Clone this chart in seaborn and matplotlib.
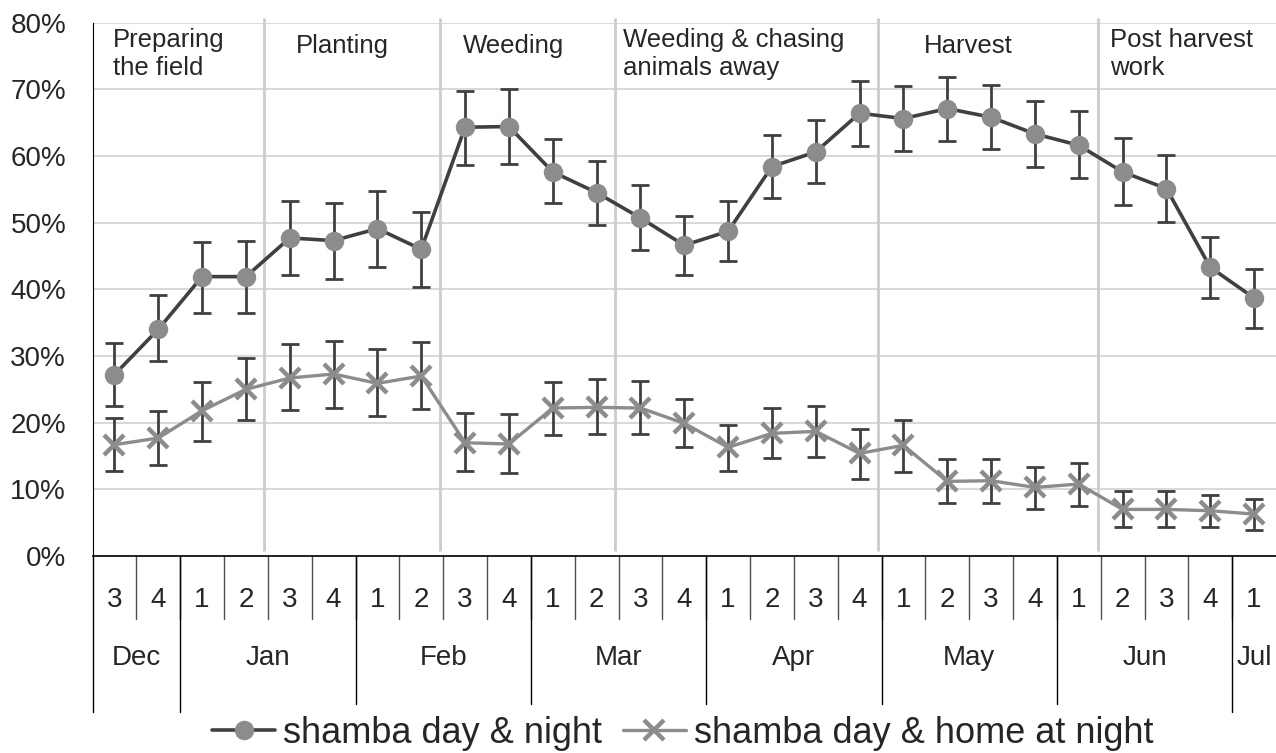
import numpy as np
import pandas as pd
import seaborn as sns
import matplotlib.pyplot as plt

# week-of-month labels along the x axis
weeks = ['3', '4',
         '1', '2', '3', '4',
         '1', '2', '3', '4',
         '1', '2', '3', '4',
         '1', '2', '3', '4',
         '1', '2', '3', '4',
         '1', '2', '3', '4',
         '1']
months = ['Dec', 'Jan', 'Feb', 'Mar', 'Apr', 'May', 'Jun', 'Jul']
month_len = [2, 4, 4, 4, 4, 4, 4, 1]

series = ['shamba day & night', 'shamba day & home at night']

# shamba day & night (%), with error bar ends
day_night = [27.2, 34.0, 41.9, 41.9, 47.7, 47.3, 49.1, 46.0, 64.3, 64.4, 57.6, 54.5, 50.7, 46.6,
             48.7, 58.4, 60.6, 66.4, 65.6, 67.1, 65.8, 63.3, 61.6, 57.6, 55.1, 43.3, 38.7]
day_night_lo = [22.5, 29.2, 36.5, 36.5, 42.1, 41.5, 43.4, 40.4, 58.7, 58.8, 53.0, 49.7, 45.9, 42.1,
                44.2, 53.7, 55.9, 61.5, 60.8, 62.3, 61.0, 58.4, 56.7, 52.6, 50.1, 38.7, 34.2]
day_night_hi = [32.0, 39.1, 47.1, 47.2, 53.3, 52.9, 54.8, 51.6, 69.8, 70.0, 62.5, 59.3, 55.6, 51.0,
                53.2, 63.2, 65.4, 71.2, 70.5, 71.8, 70.6, 68.2, 66.7, 62.7, 60.2, 47.8, 43.1]

# shamba day & home at night (%), with error bar ends
day_home = [16.7, 17.7, 21.8, 25.0, 26.7, 27.3, 25.9, 27.0, 17.0, 16.8, 22.2, 22.3, 22.2, 19.9,
            16.3, 18.4, 18.7, 15.4, 16.6, 11.2, 11.3, 10.3, 10.8, 7.0, 7.0, 6.8, 6.3]
day_home_lo = [12.7, 13.7, 17.3, 20.4, 21.9, 22.2, 21.0, 22.0, 12.7, 12.5, 18.1, 18.3, 18.3, 16.4,
               12.8, 14.7, 14.9, 11.6, 12.6, 8.0, 8.0, 7.1, 7.5, 4.3, 4.3, 4.4, 3.9]
day_home_hi = [20.7, 21.8, 26.1, 29.7, 31.8, 32.3, 31.0, 32.1, 21.4, 21.3, 26.1, 26.5, 26.3, 23.6,
               19.7, 22.2, 22.5, 19.1, 20.4, 14.5, 14.6, 13.3, 13.9, 9.7, 9.7, 9.1, 8.5]

phases = ['Preparing\nthe field', 'Planting', 'Weeding',
          'Weeding & chasing\nanimals away', 'Harvest', 'Post harvest\nwork']

# layout of the phase annotations (x in category units, top of text in %)
phase_pos = [(-0.03, 79.2), (4.15, 78.35), (7.95, 78.35),
             (11.6, 79.2), (18.46, 78.35), (22.71, 79.2)]
phase_lines = [3.41, 7.42, 11.43, 17.43, 22.45]

DARK = '#404040'
GRAY = '#8c8c8c'

sns.set_style('white')
plt.rcParams['font.family'] = ['Liberation Sans', 'DejaVu Sans']

df = pd.DataFrame({'pos': np.arange(len(weeks)),
                   'day_night': day_night, 'day_home': day_home})

fig = plt.figure(figsize=(12.76, 7.53), dpi=100)
ax = fig.add_axes([0.0725, 0.2615, 0.9275, 0.7086])

sns.lineplot(data=df, x='pos', y='day_night', ax=ax, color=DARK, linewidth=2.6,
             marker='o', markersize=14, markerfacecolor=GRAY, markeredgecolor=GRAY,
             markeredgewidth=0, label=series[0], errorbar=None, zorder=4)
sns.lineplot(data=df, x='pos', y='day_home', ax=ax, color=GRAY, linewidth=2.4,
             marker='x', markersize=14, markeredgecolor=GRAY, markeredgewidth=3.2,
             label=series[1], errorbar=None, zorder=4)
handles, labels = ax.get_legend_handles_labels()

for mean, lo, hi in [(day_night, day_night_lo, day_night_hi),
                     (day_home, day_home_lo, day_home_hi)]:
    mean = np.array(mean)
    ax.errorbar(df['pos'], mean, yerr=[mean - np.array(lo), np.array(hi) - mean],
                fmt='none', ecolor=DARK, elinewidth=2, capsize=6.5, capthick=2, zorder=3)

ax.set_xlim(-0.5, len(weeks) - 0.5)
ax.set_ylim(0, 80)
ax.set_yticks(range(0, 81, 10))
ax.set_yticklabels([f'{v}%' for v in range(0, 81, 10)], fontsize=20)
ax.tick_params(axis='y', direction='out', length=6.5, width=1, color='#606060', pad=12.5)
ax.tick_params(axis='x', length=0, labelbottom=False)
ax.set_xlabel('')
ax.set_ylabel('')
ax.yaxis.grid(True, color='#d9d9d9', linewidth=1.5)
ax.set_axisbelow(True)
for s in ['top', 'right']:
    ax.spines[s].set_visible(False)
ax.spines['left'].set_color('black')
ax.spines['bottom'].set_color('black')
ax.spines['bottom'].set_linewidth(1.2)

# phase separators and labels
ax.vlines(phase_lines, 0.8, 80.7, colors='#cccccc', linewidth=2, zorder=1, clip_on=False)
for txt, (px, py) in zip(phases, phase_pos):
    ax.text(px, py, txt, fontsize=18.5, ha='left', va='top', linespacing=1.2)

# two-level category axis
tr = ax.get_xaxis_transform()
for i, w in enumerate(weeks):
    ax.text(i, -0.083, w, transform=tr, ha='center', va='center', fontsize=20)
for b in np.arange(0.5, len(weeks) - 1, 1.0):
    ax.plot([b, b], [0, -0.117], transform=tr, color='#505050', lw=1, clip_on=False)

start = 0
bounds = [-0.5]
for m, n in zip(months, month_len):
    ax.text(start + (n - 1) / 2, -0.191, m, transform=tr, ha='center', va='center', fontsize=20)
    start += n
    bounds.append(start - 0.5)
for k, b in enumerate(bounds[:-1]):
    end = -0.292 if k in (0, 1, len(bounds) - 2) else -0.278
    ax.plot([b, b], [0, end], transform=tr, color='black', lw=1, clip_on=False)

ax.legend(handles, labels, loc='center', bbox_to_anchor=(0.535, 0.026),
          bbox_transform=fig.transFigure, ncol=2, frameon=False, fontsize=26,
          handlelength=1.75, handletextpad=0.22, columnspacing=0.57, numpoints=1)

fig.savefig('out.png', dpi=100)
